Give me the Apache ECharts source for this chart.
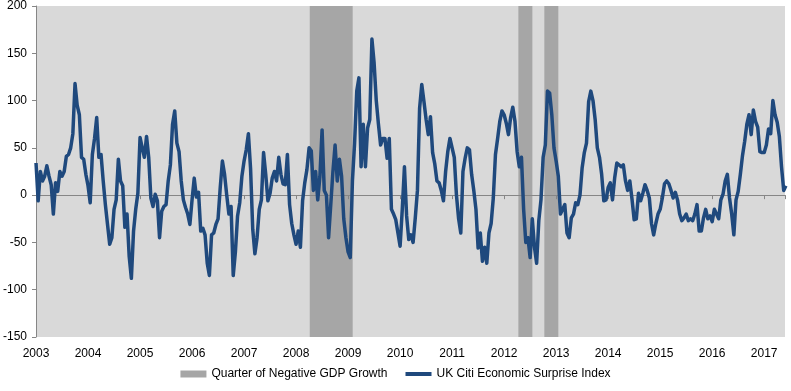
<!DOCTYPE html>
<html>
<head>
<meta charset="utf-8">
<script src="https://cdn.jsdelivr.net/npm/echarts@6/dist/echarts.min.js"></script>
<style>
html,body{margin:0;padding:0;background:#fff;}
#chart{width:791px;height:391px;}
</style>
</head>
<body>
<div id="chart"></div>
<script>
// ---- data ----
const firstYear = 2003;
const stepsPerYear = 24; // semi-monthly readings
const v2003 = [34,-6,25,15,20,31,20,11,-20,13,4,25,20,25,41,43,50,65,118,95,85,40,38,22];
const v2004 = [10,-8,43,60,82,40,43,15,-10,-31,-52,-45,-15,-5,38,15,10,-34,-20,-65,-88,-38,-15,2];
const v2005 = [61,50,40,62,40,-3,-12,1,-6,-45,-17,-12,-10,15,32,75,89,55,46,15,-5,-13,-20,-31];
const v2006 = [-5,18,-2,3,-38,-35,-42,-72,-85,-42,-40,-31,-25,8,36,22,0,-20,-12,-85,-60,-22,-8,20];
const v2007 = [36,48,65,28,-36,-62,-45,-15,-5,45,22,-6,2,18,25,15,40,22,12,11,43,-10,-30,-42];
const v2008 = [-52,-38,-55,-6,13,27,50,47,5,25,-5,20,69,5,0,-45,-10,25,53,15,38,20,-25,-45];
const v2009 = [-60,-66,15,55,110,124,30,75,30,71,80,165,140,100,75,53,60,60,39,60,-15,-20,-26,-40];
const v2010 = [-54,-15,30,-22,-47,-42,-50,-24,5,92,117,99,80,64,83,45,33,15,13,5,-6,25,46,60];
const v2011 = [50,40,0,-25,-40,25,39,50,48,22,5,-15,-56,-40,-70,-55,-72,-40,-30,-3,43,60,78,89];
const v2012 = [85,76,64,82,93,78,46,30,40,-15,-50,-45,-66,-25,-55,-72,-27,-5,40,53,110,108,85,50];
const v2013 = [36,20,-20,-15,-10,-40,-45,-24,-20,-8,-10,0,29,45,55,99,110,100,80,50,40,22,-6,-5];
const v2014 = [8,13,-5,18,34,32,30,32,15,5,15,-4,-26,-25,2,-6,2,11,5,-3,-30,-42,-30,-20];
const v2015 = [-15,-3,12,15,12,5,-3,3,-5,-20,-27,-24,-20,-27,-25,-27,-20,-10,-38,-38,-24,-15,-25,-22];
const v2016 = [-28,-15,-20,-25,-5,1,15,22,-3,-20,-42,-5,4,22,42,57,75,85,64,90,78,72,46,45];
const v2017 = [45,53,70,65,100,85,77,62,30,5,10];
const yearlyValues = [v2003,v2004,v2005,v2006,v2007,v2008,v2009,v2010,v2011,v2012,v2013,v2014,v2015,v2016,v2017];

const bandStarts = [2008.263, 2012.274, 2012.773];
const bandEnds   = [2009.088, 2012.543, 2013.042];

const yTicks = [-150,-100,-50,0,50,100,150,200];
const xMin = 2003, xMax = 2017.4;

const bandName = 'Quarter of Negative GDP Growth';
const lineName = 'UK Citi Economic Surprise Index';

// ---- build ----
const lineData = [];
yearlyValues.forEach((arr, yi) => {
  arr.forEach((v, i) => lineData.push([firstYear + yi + i / stepsPerYear, v]));
});
const bandData = bandStarts.map((s, i) => [{xAxis: s}, {xAxis: bandEnds[i]}]);

const FONT = 'Liberation Sans';
// thick-line legend glyph (invisible corner points keep the 26x7 box)
const lineIcon = 'path://M0,0L0.01,0L0.01,0.01ZM0,1.6L26,1.6L26,5.4L0,5.4ZM25.99,7L26,7L26,6.99Z';
const chart = echarts.init(document.getElementById('chart'), null, {renderer: 'canvas'});
chart.setOption({
  animation: false,
  textStyle: {fontFamily: FONT},
  grid: {left: 35, right: 6, top: 5, bottom: 54, show: true, backgroundColor: '#d9d9d9', borderWidth: 0, z: 0},
  legend: {
    bottom: 6, left: 'center',
    itemWidth: 26, itemHeight: 7, itemGap: 18,
    textStyle: {fontFamily: FONT, fontSize: 12, color: '#000'},
    data: [
      {name: bandName, icon: 'rect'},
      {name: lineName, icon: lineIcon, itemStyle: {color: '#1f497d'}}
    ]
  },
  xAxis: [
    {
      type: 'value', min: xMin, max: xMax, interval: 1,
      position: 'bottom',
      axisLine: {show: false, onZero: false},
      axisTick: {show: false},
      splitLine: {show: false},
      axisLabel: {
        color: '#000', fontSize: 12, fontFamily: FONT, margin: 11,
        formatter: v => Number.isInteger(v) ? String(v) : ''
      }
    },
    {
      type: 'value', min: xMin, max: xMax, interval: 1,
      position: 'bottom',
      z: 3,
      axisLine: {show: true, onZero: true, lineStyle: {color: '#868686', width: 1}},
      axisTick: {show: true, length: 4, lineStyle: {color: '#868686'}},
      splitLine: {show: false},
      axisLabel: {show: false}
    }
  ],
  yAxis: {
    type: 'value', min: yTicks[0], max: yTicks[yTicks.length - 1], interval: 50,
    axisLine: {show: true, lineStyle: {color: '#868686', width: 1}},
    axisTick: {show: true, length: 4, lineStyle: {color: '#868686'}},
    splitLine: {show: false},
    axisLabel: {color: '#000', fontSize: 12, fontFamily: FONT, margin: 9}
  },
  series: [
    {
      name: bandName, type: 'line', data: [], z: 1,
      color: '#a6a6a6',
      itemStyle: {color: '#a6a6a6'},
      lineStyle: {color: '#a6a6a6'},
      markArea: {silent: true, itemStyle: {color: '#a6a6a6', opacity: 1}, data: bandData}
    },
    {
      name: lineName, type: 'line', data: lineData, z: 4,
      xAxisIndex: 0,
      symbol: 'none', smooth: false,
      color: '#1f497d',
      lineStyle: {color: '#1f497d', width: 3.5, join: 'round'},
      clip: true
    }
  ]
});
</script>
</body>
</html>
